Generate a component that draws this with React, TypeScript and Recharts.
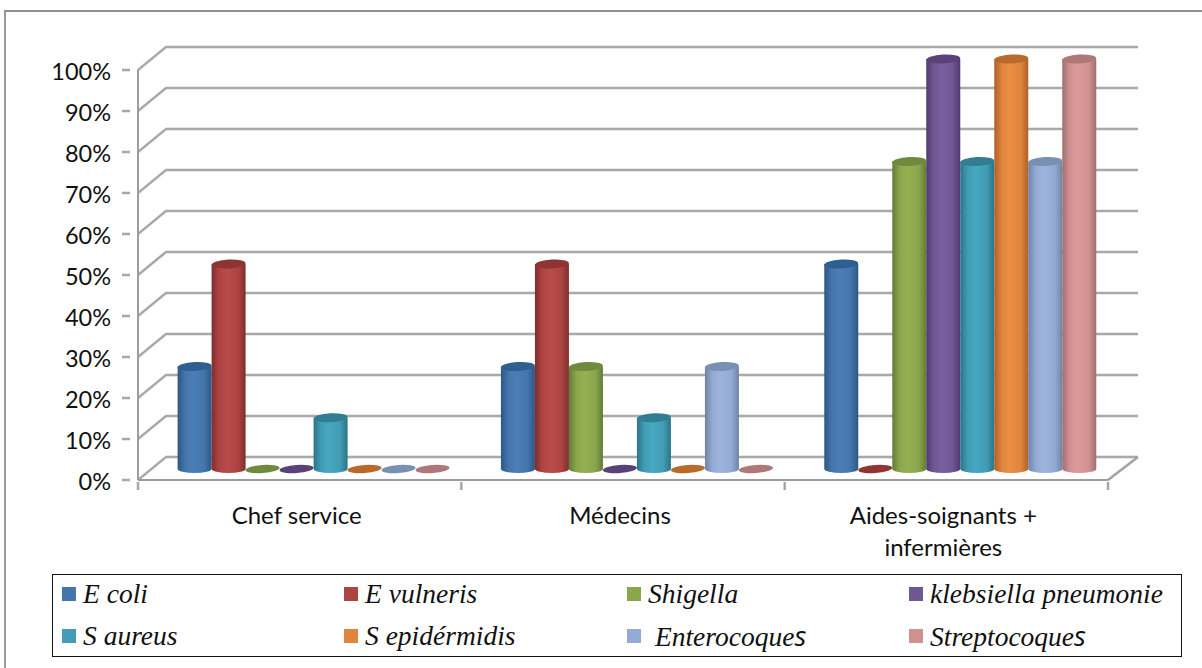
import { Bar, BarChart, CartesianGrid, Legend, XAxis, YAxis } from "recharts";

const categories = ["Chef service", "Médecins", "Aides-soignants + infermières"];
const categoryLines = [["Chef service"], ["Médecins"], ["Aides-soignants +", "infermières"]];
const percentTicks = [0, 10, 20, 30, 40, 50, 60, 70, 80, 90, 100];

const eColi = [25, 25, 50];
const eVulneris = [50, 50, 0];
const shigella = [0, 25, 75];
const klebsiella = [0, 0, 100];
const sAureus = [12.5, 12.5, 75];
const sEpidermidis = [0, 0, 100];
const enterocoques = [0, 25, 75];
const streptocoques = [0, 0, 100];

type Serie = { key: string; name: string; values: number[]; base: string; edge: string; shine: string; lid: string };

const series: Serie[] = [
  { key: "eColi", name: "E coli", values: eColi, base: "#4675AB", edge: "#2C5687", shine: "#4B7EB8", lid: "#2E5F91" },
  { key: "eVulneris", name: "E vulneris", values: eVulneris, base: "#AE4442", edge: "#7D2E2D", shine: "#B74C49", lid: "#8E3533" },
  { key: "shigella", name: "Shigella", values: shigella, base: "#89A64C", edge: "#647C35", shine: "#93B251", lid: "#6F8A3C" },
  { key: "klebsiella", name: "klebsiella pneumonie", values: klebsiella, base: "#6F5794", edge: "#4F3B6D", shine: "#7A5F9E", lid: "#5A4279" },
  { key: "sAureus", name: "S aureus", values: sAureus, base: "#419CB4", edge: "#2C7488", shine: "#47A8C1", lid: "#317D92" },
  { key: "sEpidermidis", name: "S epidérmidis", values: sEpidermidis, base: "#E0853C", edge: "#AD6127", shine: "#EA8E42", lid: "#B96A2B" },
  { key: "enterocoques", name: " Enterocoques", values: enterocoques, base: "#93ABD4", edge: "#6F83A6", shine: "#9DB4DD", lid: "#7890B2" },
  { key: "streptocoques", name: "Streptocoques", values: streptocoques, base: "#D09291", edge: "#A06E6E", shine: "#DB9A99", lid: "#AE7878" },
];

const rows = categories.map((category, i) => {
  const row: Record<string, string | number> = { category };
  series.forEach((s) => {
    row[s.key] = s.values[i];
  });
  return row;
});

const WALL_DX = 28;
const WALL_DY = -23;
const WALL_RIGHT = 1138;
const BAR_DX = 14;
const BAR_DY = -11;
const LID_RY = 4.5;
const FOOT_RY = 4;
const PLOT_LEFT = 138;
const PLOT_RIGHT = 1108;
const BAND = (PLOT_RIGHT - PLOT_LEFT) / categories.length;
const AXIS_GREY = "#9C9C9C";
const LABEL_FONT = "Lato, sans-serif";

// two strokes give the wall lines their soft edge
const SoftLine = ({ d }: { d: string }) => (
  <g fill="none">
    <path d={d} stroke="#D2D2D2" strokeWidth={3} />
    <path d={d} stroke={AXIS_GREY} strokeWidth={1.6} />
  </g>
);

// a grid line folded over the side wall and along the back wall
const WallLine = (props: any) => {
  const { x1, x2, y1, index } = props;
  const backY = y1 + WALL_DY;
  let d = `M${x1},${y1} L${x1 + WALL_DX},${backY} L${WALL_RIGHT},${backY}`;
  if (y1 > 470) d += ` M${x2},${y1} L${WALL_RIGHT},${backY}`;
  return <SoftLine key={`wall-${index}`} d={d} />;
};

const Cylinder = (props: any) => {
  const { x, y, width, height, dataKey } = props;
  const s = series.find((item) => item.key === dataKey)!;
  const left = x + BAR_DX;
  const right = left + width;
  const top = y + BAR_DY;
  const bottom = top + height;
  const cx = left + width / 2;
  const rx = width / 2;
  if (height < 1) {
    return <ellipse cx={cx} cy={bottom} rx={rx} ry={FOOT_RY} fill={s.lid} transform={`rotate(-4 ${cx} ${bottom})`} />;
  }
  return (
    <g>
      <path
        d={`M${left},${top} L${left},${bottom} A${rx},${FOOT_RY} 0 0 0 ${right},${bottom} L${right},${top} Z`}
        fill={`url(#tube-${s.key})`}
      />
      <ellipse cx={cx} cy={top} rx={rx} ry={LID_RY} fill={s.lid} transform={`rotate(-3 ${cx} ${top})`} />
    </g>
  );
};

const PercentTick = (props: any) => {
  const { x, y, payload } = props;
  return (
    <g>
      <SoftLine d={`M${x - 8},${y} L${x},${y}`} />
      <text x={111} y={y + 10} textAnchor="end" fontFamily={LABEL_FONT} fontSize={23.5} fill="#111">
        {payload.value}%
      </text>
    </g>
  );
};

const CategoryTick = (props: any) => {
  const { x, y, index } = props;
  const last = index === categories.length - 1;
  return (
    <g>
      <SoftLine d={`M${x - BAND / 2},${y - 8} v8`} />
      {last && <SoftLine d={`M${x + BAND / 2},${y - 8} v8`} />}
      <text textAnchor="middle" fontFamily={LABEL_FONT} fontSize={24} fill="#111">
        {categoryLines[index].map((line, i) => (
          <tspan key={line} x={x - 3} y={y + 34 + i * 32}>
            {line}
          </tspan>
        ))}
      </text>
    </g>
  );
};

const legendColumns = [9, 291, 574, 856];

const BoxedLegend = ({ payload }: any) => (
  <div style={{ position: "relative", width: 1128, height: 81, border: "1px solid #111", background: "#fff" }}>
    {(payload ?? []).map((entry: any, i: number) => {
      const name: string = entry.value;
      const trailing = name.endsWith("coques");
      return (
        <div key={name} style={{ position: "absolute", left: legendColumns[i % 4], top: i < 4 ? 12 : 54, height: 14, whiteSpace: "pre" }}>
          <span style={{ position: "absolute", left: 0, top: 0, width: 14, height: 14, background: entry.color }} />
          <span
            style={{
              position: "absolute",
              left: 21,
              top: -7,
              fontFamily: "'Liberation Serif', serif",
              fontStyle: "italic",
              fontSize: 27.5,
              lineHeight: "28px",
              color: "#111",
            }}
          >
            {trailing ? name.slice(0, -1) : name}
            {trailing && <span style={{ fontFamily: "'Open Sans', sans-serif" }}>s</span>}
          </span>
        </div>
      );
    })}
  </div>
);

export default function App() {
  return (
    <div style={{ position: "absolute", left: 0, top: 0, width: 1202, height: 668, background: "#fff", overflow: "hidden" }}>
      <div style={{ position: "absolute", left: 4, top: 10, width: 1198, height: 658, borderLeft: "2px solid #9A9A9A", borderTop: "2px solid #8E8E8E" }} />
      <BarChart
        width={1202}
        height={668}
        data={rows}
        margin={{ top: 70, right: 94, bottom: 100, left: 0 }}
        barGap={0}
        barCategoryGap={25.6}
      >
        <defs>
          {series.map((s) => (
            <linearGradient key={s.key} id={`tube-${s.key}`} x1="0" y1="0" x2="1" y2="0">
              <stop offset="0%" stopColor={s.edge} />
              <stop offset="22%" stopColor={s.base} />
              <stop offset="45%" stopColor={s.shine} />
              <stop offset="78%" stopColor={s.base} />
              <stop offset="100%" stopColor={s.edge} />
            </linearGradient>
          ))}
        </defs>
        <CartesianGrid vertical={false} horizontal={WallLine} />
        <XAxis
          dataKey="category"
          height={88}
          interval={0}
          axisLine={{ stroke: AXIS_GREY, strokeWidth: 2 }}
          tickLine={false}
          tickSize={8}
          tick={CategoryTick}
        />
        <YAxis
          width={138}
          domain={[0, 100]}
          ticks={percentTicks}
          interval={0}
          axisLine={{ stroke: AXIS_GREY, strokeWidth: 2 }}
          tickLine={false}
          tick={PercentTick}
        />
        {series.map((s) => (
          <Bar key={s.key} dataKey={s.key} name={s.name} fill={s.base} shape={Cylinder} isAnimationActive={false} />
        ))}
        <Legend
          layout="horizontal"
          verticalAlign="middle"
          itemSorter={null}
          content={BoxedLegend}
          wrapperStyle={{ left: 52, top: 574, width: 1130, height: 83 }}
        />
      </BarChart>
    </div>
  );
}
